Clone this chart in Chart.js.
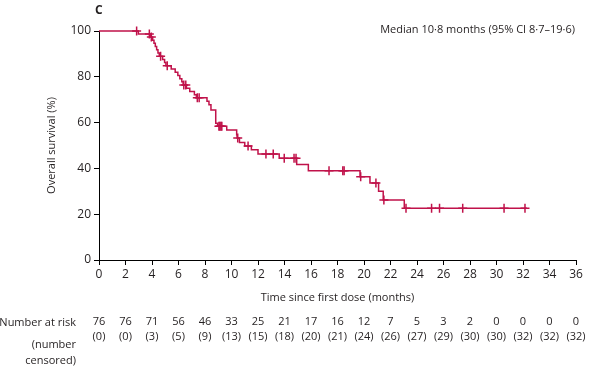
<!DOCTYPE html>
<html>
<head>
<meta charset="utf-8">
<script src="https://cdn.jsdelivr.net/npm/chart.js@4.4.1/dist/chart.umd.min.js"></script>
<style>
  html, body { margin: 0; padding: 0; background: #fff; }
  #wrap { width: 600px; height: 369px; }
</style>
</head>
<body>
<div id="wrap"><canvas id="km" width="600" height="369"></canvas></div>
<script>
// Kaplan-Meier steps: month of each drop and survival (%) after it
const eventMonths = [0, 2.97, 3.88, 4.05, 4.15, 4.25, 4.35, 4.45, 4.55, 4.8, 4.95, 5.05, 5.45, 5.75, 5.95,
  6.1, 6.25, 6.35, 6.6, 6.85, 7.2, 7.35, 8.15, 8.3, 8.45, 8.81, 8.95, 9.64, 10.39, 10.42, 10.6, 11.0,
  11.5, 12.0, 13.6, 14.92, 15.8, 19.7, 20.45, 21.1, 21.45, 23.04, 32.3];
const survivalPct = [100, 98.7, 97.4, 96.0, 94.6, 93.2, 91.8, 90.4, 89.0, 87.6, 86.2, 84.8, 83.4, 82.0, 80.6,
  79.2, 77.8, 76.4, 75.0, 73.6, 72.2, 70.8, 69.3, 67.8, 65.5, 59.7, 58.4, 56.8, 54.7, 53.3, 51.3, 49.8,
  48.1, 46.3, 44.4, 41.7, 39.0, 36.4, 33.6, 30.0, 26.2, 22.6, 22.6];
const censorMonths = [2.84, 3.8, 3.95, 4.65, 5.15, 6.4, 6.55, 7.42, 7.56, 9.05, 9.12, 9.2, 9.27, 10.47, 11.25,
  12.6, 13.15, 13.98, 14.72, 14.87, 17.36, 18.4, 18.5, 19.75, 20.9, 21.5, 23.17, 25.1, 25.7, 27.45, 30.57, 32.15];

const riskMonths = [0, 2, 4, 6, 8, 10, 12, 14, 16, 18, 20, 22, 24, 26, 28, 30, 32, 34, 36];
const atRisk = [76, 76, 71, 56, 46, 33, 25, 21, 17, 16, 12, 7, 5, 3, 2, 0, 0, 0, 0];
const censored = [0, 0, 3, 5, 9, 13, 15, 18, 20, 21, 24, 26, 27, 29, 30, 30, 32, 32, 32];

const lineColor = '#c0124a';
const textColor = '#231f20';
const font = '"Open Sans", "DejaVu Sans", sans-serif';

function survAt(t) {
  let s = survivalPct[0];
  for (let i = 0; i < eventMonths.length; i++) {
    if (eventMonths[i] <= t) s = survivalPct[i];
  }
  return s;
}

const curve = eventMonths.map((m, i) => ({ x: m, y: survivalPct[i] }));
const marks = censorMonths.map(m => ({ x: m, y: survAt(m) }));

const extras = {
  id: 'extras',
  afterDraw(chart) {
    const ctx = chart.ctx;
    const xs = chart.scales.x;
    const area = chart.chartArea;
    ctx.save();
    ctx.fillStyle = textColor;

    ctx.font = 'bold 12px ' + font;
    ctx.textAlign = 'left';
    ctx.textBaseline = 'middle';
    ctx.fillText('C', 95, 11);

    ctx.font = '11px ' + font;
    ctx.textAlign = 'right';
    ctx.fillText('Median 10·8 months (95% CI 8·7–19·6)', 575, 30);

    ctx.textAlign = 'center';
    ctx.fillText('Time since first dose (months)', (area.left + area.right) / 2, 298);

    ctx.save();
    ctx.translate(52, (area.top + area.bottom) / 2);
    ctx.rotate(-Math.PI / 2);
    ctx.fillText('Overall survival (%)', 0, 0);
    ctx.restore();

    ctx.textAlign = 'right';
    ctx.fillText('Number at risk', 76, 323);
    ctx.fillText('(number', 76, 345);
    ctx.fillText('censored)', 76, 361);

    ctx.textAlign = 'center';
    riskMonths.forEach((m, i) => {
      const px = xs.getPixelForValue(m);
      ctx.fillText(String(atRisk[i]), px, 322);
      ctx.fillText('(' + censored[i] + ')', px, 337);
    });
    ctx.restore();
  }
};

new Chart(document.getElementById('km'), {
  type: 'line',
  data: {
    datasets: [
      {
        data: curve,
        borderColor: lineColor,
        borderWidth: 1.5,
        pointRadius: 0,
        stepped: 'before',
        fill: false,
        clip: 6
      },
      {
        type: 'scatter',
        data: marks,
        pointStyle: 'cross',
        pointRadius: 4.5,
        borderColor: lineColor,
        borderWidth: 1.5,
        clip: 6
      }
    ]
  },
  options: {
    responsive: false,
    animation: false,
    layout: { padding: { top: 31, right: 24, left: 0, bottom: 0 } },
    plugins: { legend: { display: false }, tooltip: { enabled: false } },
    scales: {
      x: {
        type: 'linear',
        min: 0,
        max: 36,
        ticks: { stepSize: 2, color: textColor, font: { family: font, size: 12 }, padding: 2, maxRotation: 0 },
        grid: { drawOnChartArea: false, color: '#000', tickLength: 5 },
        border: { color: '#000', width: 1 },
        afterFit(scale) { scale.height = 109; }
      },
      y: {
        min: 0,
        max: 100,
        ticks: { stepSize: 20, color: textColor, font: { family: font, size: 12 }, padding: 3 },
        grid: { drawOnChartArea: false, color: '#000', tickLength: 5 },
        border: { color: '#000', width: 1 },
        afterFit(scale) { scale.width = 99; }
      }
    }
  },
  plugins: [extras]
});
</script>
</body>
</html>
